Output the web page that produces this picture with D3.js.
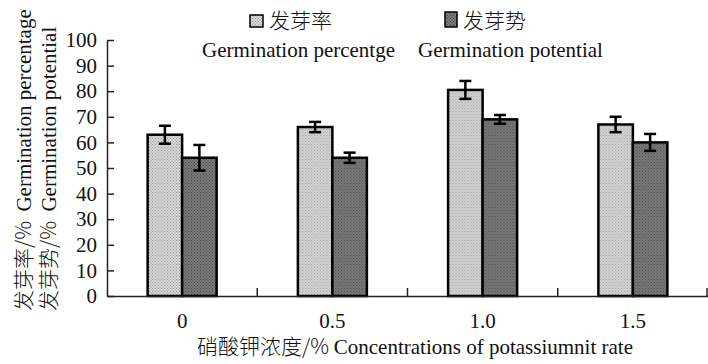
<!DOCTYPE html>
<html>
<head>
<meta charset="utf-8">
<script src="https://cdn.jsdelivr.net/npm/d3@7"></script>
<style>
  body { margin: 0; background: #fff; }
  svg text { font-family: "Liberation Serif", "Times New Roman", serif; fill: #111; }
  .cjk { font-family: "Noto Sans CJK SC", sans-serif; font-weight: 300; }
</style>
</head>
<body>
<div id="chart"></div>
<script>
// data
const categories = ['0', '0.5', '1.0', '1.5'];
const seriesKeys = ['rate', 'potential'];
const germRate = [63, 66, 80.5, 67];
const germRateErr = [3.5, 2, 3.5, 3];
const germPot = [54, 54, 69, 60];
const germPotErr = [5, 2, 1.7, 3.3];
const yTicks = [0, 10, 20, 30, 40, 50, 60, 70, 80, 90, 100];

const width = 708, height = 364;
const plot = { left: 107, right: 708, top: 40, bottom: 296 };
const fs = '21px';

const svg = d3.select('#chart').append('svg')
    .attr('width', width)
    .attr('height', height);

// stipple patterns for the two bar fills
const defs = svg.append('defs');
const makePattern = (id, base, dot) => {
    const p = defs.append('pattern')
        .attr('id', id)
        .attr('width', 3).attr('height', 3)
        .attr('patternUnits', 'userSpaceOnUse');
    p.append('rect').attr('width', 3).attr('height', 3).attr('fill', base);
    p.append('rect').attr('x', 0).attr('y', 0).attr('width', 1).attr('height', 1).attr('fill', dot);
    p.append('rect').attr('x', 1.5).attr('y', 1.5).attr('width', 1).attr('height', 1).attr('fill', dot);
};
makePattern('lightFill', '#d6d6d6', '#9a9a9a');
makePattern('darkFill', '#7c7c7c', '#444');
const fills = { rate: 'url(#lightFill)', potential: 'url(#darkFill)' };

const x = d3.scaleBand().domain(categories).range([plot.left, plot.right]).padding(0);
const barsW = 69;
const x1 = d3.scaleBand().domain(seriesKeys)
    .range([(x.bandwidth() - barsW) / 2, (x.bandwidth() + barsW) / 2]);
const y = d3.scaleLinear().domain([0, 100]).range([plot.bottom, plot.top]);

const rows = categories.map((c, i) => ({
    cat: c,
    values: [
        { key: 'rate', v: germRate[i], e: germRateErr[i] },
        { key: 'potential', v: germPot[i], e: germPotErr[i] },
    ],
}));

// bars
const groups = svg.selectAll('.grp').data(rows).enter().append('g')
    .attr('class', 'grp')
    .attr('transform', (d) => `translate(${x(d.cat)},0)`);

groups.selectAll('rect').data((d) => d.values).enter().append('rect')
    .attr('x', (d) => x1(d.key))
    .attr('y', (d) => y(d.v))
    .attr('width', x1.bandwidth())
    .attr('height', (d) => y(0) - y(d.v))
    .attr('fill', (d) => fills[d.key])
    .attr('stroke', '#000')
    .attr('stroke-width', 2.5);

// error bars
const capW = 12;
const err = groups.selectAll('.err').data((d) => d.values).enter().append('g')
    .attr('class', 'err')
    .attr('stroke', '#000')
    .attr('stroke-width', 2.5);
err.append('line')
    .attr('x1', (d) => x1(d.key) + x1.bandwidth() / 2)
    .attr('x2', (d) => x1(d.key) + x1.bandwidth() / 2)
    .attr('y1', (d) => y(d.v + d.e))
    .attr('y2', (d) => y(d.v - d.e));
err.append('line')
    .attr('x1', (d) => x1(d.key) + x1.bandwidth() / 2 - capW / 2)
    .attr('x2', (d) => x1(d.key) + x1.bandwidth() / 2 + capW / 2)
    .attr('y1', (d) => y(d.v + d.e))
    .attr('y2', (d) => y(d.v + d.e));
err.append('line')
    .attr('x1', (d) => x1(d.key) + x1.bandwidth() / 2 - capW / 2)
    .attr('x2', (d) => x1(d.key) + x1.bandwidth() / 2 + capW / 2)
    .attr('y1', (d) => y(d.v - d.e))
    .attr('y2', (d) => y(d.v - d.e));

// y axis, ticks pointing inward
const yAxis = svg.append('g')
    .attr('transform', `translate(${plot.left},0)`)
    .call(d3.axisLeft(y).tickValues(yTicks).tickSizeInner(-7).tickSizeOuter(0).tickPadding(10));
yAxis.select('.domain').attr('stroke', '#222').attr('stroke-width', 1.5);
yAxis.selectAll('.tick line').attr('stroke', '#222').attr('stroke-width', 1.5);
yAxis.selectAll('text').style('font-size', fs).attr('fill', '#111');

// x axis: labels at centers, ticks at category boundaries
const xAxis = svg.append('g')
    .attr('transform', `translate(0,${plot.bottom})`)
    .call(d3.axisBottom(x).tickSize(0).tickPadding(17));
xAxis.select('.domain').attr('stroke', '#222').attr('stroke-width', 1.5);
xAxis.selectAll('text').style('font-size', fs).attr('fill', '#111');

const bounds = categories.slice(1).map((c) => x(c)).concat([plot.right - 1]);
xAxis.selectAll('.bound').data(bounds).enter().append('line')
    .attr('class', 'bound')
    .attr('x1', (d) => d).attr('x2', (d) => d)
    .attr('y1', 0).attr('y2', -8)
    .attr('stroke', '#222').attr('stroke-width', 1.5);

// axis titles
const xTitle = svg.append('text')
    .attr('x', 197)
    .attr('y', 354)
    .style('font-size', fs);
xTitle.append('tspan').attr('class', 'cjk').text('硝酸钾浓度/% ');
xTitle.append('tspan').text('Concentrations of potassiumnit rate');

const yTitles = [
    { cn: '发芽率/%\u00a0\u00a0', en: 'Germination percentage', x: 31 },
    { cn: '发芽势/%\u00a0\u00a0', en: 'Germination potential', x: 56 },
];
yTitles.forEach((t) => {
    const txt = svg.append('text')
        .attr('transform', `translate(${t.x},311) rotate(-90)`)
        .style('font-size', fs);
    txt.append('tspan').attr('class', 'cjk').text(t.cn);
    txt.append('tspan').text(t.en);
});

// legend
const legend = [
    { key: 'rate', cn: '发芽率', en: 'Germination percentge', sx: 250, sy: 15, sw: 13, sh: 12, enx: 202 },
    { key: 'potential', cn: '发芽势', en: 'Germination potential', sx: 445, sy: 12, sw: 12, sh: 15, enx: 418 },
];
legend.forEach((l) => {
    svg.append('rect')
        .attr('x', l.sx).attr('y', l.sy)
        .attr('width', l.sw).attr('height', l.sh)
        .attr('fill', fills[l.key])
        .attr('stroke', '#000').attr('stroke-width', 1.5);
    svg.append('text')
        .attr('class', 'cjk')
        .attr('x', l.sx + l.sw + 6).attr('y', 28)
        .style('font-size', fs)
        .text(l.cn);
    svg.append('text')
        .attr('x', l.enx).attr('y', 57)
        .style('font-size', fs)
        .text(l.en);
});
</script>
</body>
</html>
